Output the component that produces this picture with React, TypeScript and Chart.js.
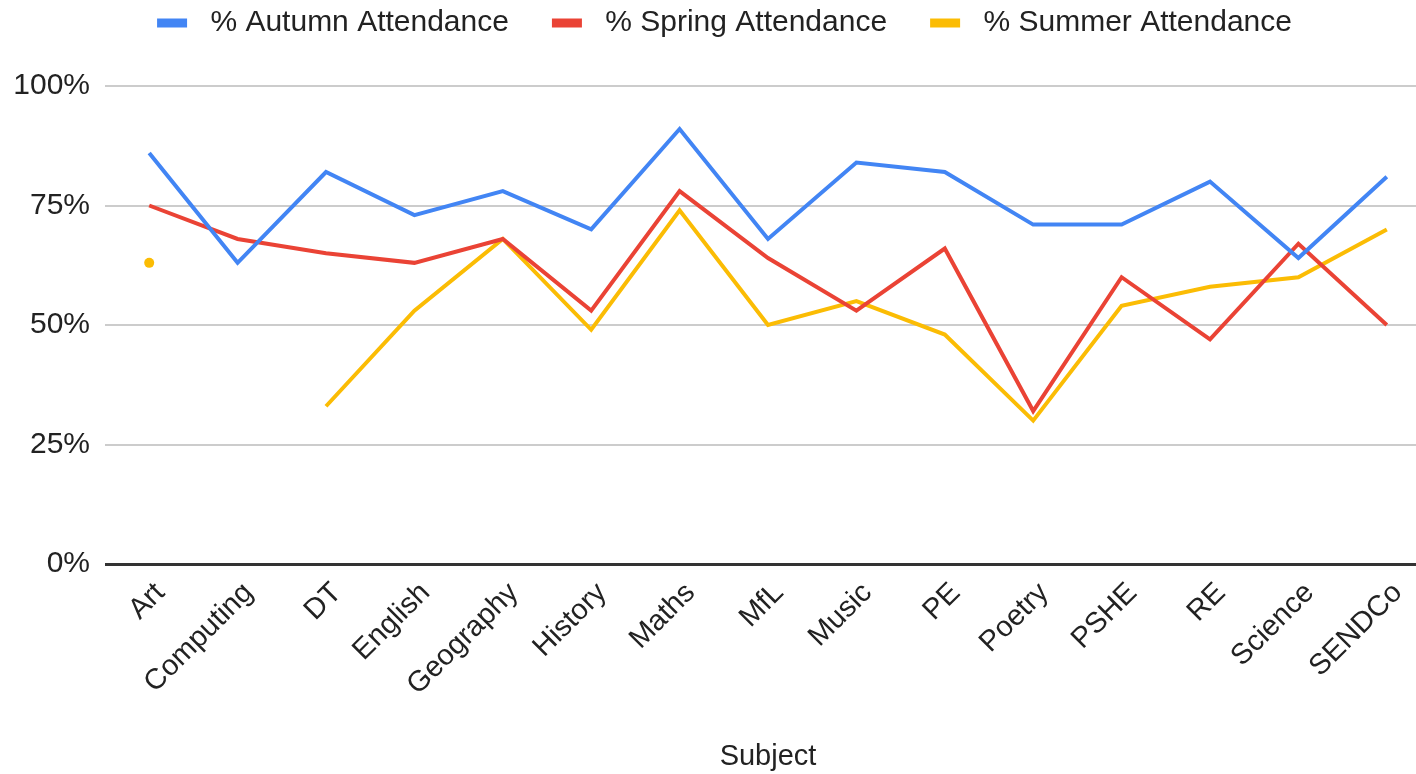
import React, { useEffect, useRef } from 'react';
import { Chart, registerables } from 'chart.js';

Chart.register(...registerables);

const subjects = ['Art', 'Computing', 'DT', 'English', 'Geography', 'History', 'Maths', 'MfL', 'Music', 'PE', 'Poetry', 'PSHE', 'RE', 'Science', 'SENDCo'];
const autumn = [86, 63, 82, 73, 78, 70, 91, 68, 84, 82, 71, 71, 80, 64, 81];
const spring = [75, 68, 65, 63, 68, 53, 78, 64, 53, 66, 32, 60, 47, 67, 50];
const summer = [63, null, 33, 53, 68, 49, 74, 50, 55, 48, 30, 54, 58, 60, 70];
const yTicks = [0, 25, 50, 75, 100];
const seriesLabels = ['% Autumn Attendance', '% Spring Attendance', '% Summer Attendance'];
const seriesColors = ['#4285F4', '#EA4335', '#FBBC04'];
const axisTitle = 'Subject';

const FONT = "'Liberation Sans', Arial, sans-serif";
const TEXT = '#222222';

const isolatedRadius = (ctx: any) => {
  const d = ctx.dataset.data;
  const i = ctx.dataIndex;
  if (d[i] == null) return 0;
  const prev = i > 0 ? d[i - 1] : null;
  const next = i < d.length - 1 ? d[i + 1] : null;
  return prev == null && next == null ? 5 : 0;
};

const legendTweak = {
  id: 'legendTweak',
  afterLayout(chart: any) {
    const lg = chart.legend;
    if (!lg) return;
    lg.top = -35;
    lg.left = 0;
    lg.right = 1449;
    lg.width = 1449;
  },
};

export default function App() {
  const ref = useRef<HTMLCanvasElement | null>(null);
  useEffect(() => {
    if (!ref.current) return;
    const series = [autumn, spring, summer];
    const chart = new Chart(ref.current, {
      type: 'line',
      data: {
        labels: subjects,
        datasets: series.map((s, i) => ({
          label: seriesLabels[i],
          data: s,
          borderColor: seriesColors[i],
          backgroundColor: seriesColors[i],
          borderWidth: 4,
          pointRadius: isolatedRadius,
          pointHoverRadius: isolatedRadius,
          pointBorderWidth: 0,
          tension: 0,
          spanGaps: false,
        })),
      },
      options: {
        animation: false,
        responsive: true,
        maintainAspectRatio: false,
        layout: { padding: { top: 3, right: 9, left: 0, bottom: 0 } },
        plugins: {
          legend: {
            position: 'top',
            align: 'center',
            labels: {
              boxWidth: 30,
              boxHeight: 9,
              padding: 43,
              color: TEXT,
              font: { family: FONT, size: 30 },
              generateLabels: (c: any) =>
                c.data.datasets.map((ds: any, i: number) => ({
                  text: ' ' + ds.label,
                  fillStyle: ds.borderColor,
                  strokeStyle: ds.borderColor,
                  lineWidth: 0,
                  hidden: false,
                  datasetIndex: i,
                  fontColor: TEXT,
                })),
            },
          },
          tooltip: { enabled: false },
        },
        scales: {
          x: {
            offset: true,
            grid: { display: false, drawTicks: false },
            border: { display: false },
            ticks: {
              autoSkip: false,
              minRotation: 45,
              maxRotation: 45,
              padding: 12,
              labelOffset: 11,
              color: TEXT,
              font: { family: FONT, size: 29 },
            },
            title: {
              display: true,
              text: axisTitle,
              color: TEXT,
              font: { family: FONT, size: 29 },
              padding: { top: 0, bottom: 0 },
            },
            afterFit: (s: any) => {
              s.height = 210;
            },
          },
          y: {
            min: 0,
            max: 100,
            afterBuildTicks: (s: any) => {
              s.ticks = yTicks.map((v) => ({ value: v }));
            },
            grid: {
              drawTicks: false,
              color: (c: any) => (c.tick && c.tick.value === 0 ? '#333333' : '#cccccc'),
              lineWidth: (c: any) => (c.tick && c.tick.value === 0 ? 3 : 2),
            },
            border: { display: false },
            ticks: {
              padding: 15,
              color: TEXT,
              font: { family: FONT, size: 30 },
              callback: (v: any) => v + '%',
            },
            afterFit: (s: any) => {
              s.width = 105;
            },
          },
        },
      },
      plugins: [legendTweak],
    });
    return () => chart.destroy();
  }, []);

  return (
    <div style={{ position: 'fixed', left: 0, top: 0, width: 1416, height: 774, overflow: 'hidden', background: '#fff' }}>
      <div style={{ position: 'relative', width: 1440, height: 774 }}>
        <canvas ref={ref} />
      </div>
    </div>
  );
}
